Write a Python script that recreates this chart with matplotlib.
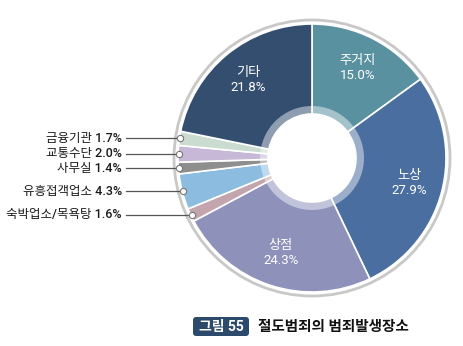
import matplotlib.pyplot as plt
import numpy as np
from matplotlib.patches import Circle, FancyBboxPatch

plt.rcParams["font.family"] = ["Roboto", "Noto Sans CJK KR", "DejaVu Sans"]

places = ["주거지", "노상", "상점", "숙박업소/목욕탕", "유흥접객업소",
          "사무실", "교통수단", "금융기관", "기타"]
shares = [15.0, 27.9, 24.3, 1.6, 4.3, 1.4, 2.0, 1.7, 21.8]
colors = ["#5a91a0", "#4a6ea0", "#8e92bb", "#c2a5ad", "#8cbde0",
          "#8e8e8e", "#c6b8d6", "#cadbd0", "#344e70"]
inside = {"주거지", "노상", "상점", "기타"}

W, H = 463, 346
fig = plt.figure(figsize=(W / 100, H / 100), dpi=100)
ax = fig.add_axes([0, 0, 1, 1])

cx, cy, R, hole = 312, 188, 134, 44

wedges, _ = ax.pie(shares, colors=colors, startangle=90, counterclock=False,
                   center=(cx, cy), radius=R, frame=True,
                   wedgeprops=dict(width=R - hole, edgecolor="white", linewidth=1.2))
ax.set_xlim(0, W)
ax.set_ylim(0, H)
ax.set_aspect("equal")
ax.axis("off")

# light band around the hole and grey outer ring
ax.add_patch(Circle((cx, cy), hole + 8, facecolor="white", alpha=0.45, edgecolor="none", zorder=3))
ax.add_patch(Circle((cx, cy), hole, facecolor="white", edgecolor="none", zorder=4))
ax.add_patch(Circle((cx, cy), R + 4, facecolor="none", edgecolor="#c8c8c8", linewidth=2, zorder=2))

for w, name, val in zip(wedges, places, shares):
    mid = np.deg2rad((w.theta1 + w.theta2) / 2)
    if name in inside:
        r = R * 0.75
        ax.text(cx + r * np.cos(mid), cy + r * np.sin(mid), f"{name}\n{val:.1f}%",
                ha="center", va="center", color="white", fontsize=9.5,
                linespacing=1.2, zorder=5)
    else:
        px, py = cx + (R - 1) * np.cos(mid), cy + (R - 1) * np.sin(mid)
        ax.plot([126, px], [py, py], color="#555555", linewidth=0.9, zorder=5)
        ax.plot(px, py, "o", markersize=4.5, markerfacecolor="white",
                markeredgecolor="#777777", markeredgewidth=0.8, zorder=6)
        ax.text(122, py, f"{name} {val:.1f}%", ha="right", va="center",
                fontsize=9, color="#1a1a1a", fontweight="medium", zorder=5)

# caption
ax.add_patch(FancyBboxPatch((193, 10), 56, 19, boxstyle="round,pad=0,rounding_size=3",
                            facecolor="#2c4a6b", edgecolor="none"))
ax.text(221, 19.5, "그림 55", ha="center", va="center", color="white",
        fontsize=10, fontweight="bold")
ax.text(258, 19.5, "절도범죄의 범죄발생장소", ha="left", va="center",
        color="#111111", fontsize=10.5, fontweight="bold")

fig.savefig("out.png", dpi=100)
